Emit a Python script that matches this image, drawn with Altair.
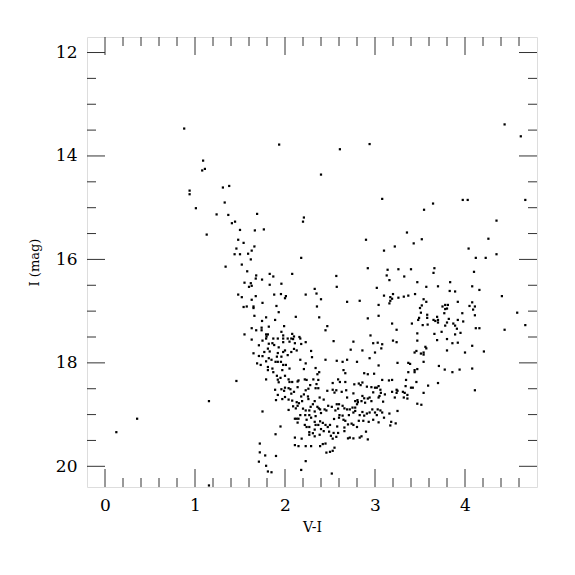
import altair as alt
import pandas as pd

# ---- data: (V-I, I) ----
sparse = [(0.88,13.47),(1.09,14.09),(1.11,14.25),(1.08,14.28),(1.31,14.61),(1.38,14.58),
          (1.935,13.78),(2.61,13.87),(2.94,13.77),(2.40,14.36),(4.44,13.39),(4.62,13.62),
          (0.126,19.34),(0.357,19.08),(1.155,18.74),(1.155,20.37),(1.46,18.35),
          (0.94,14.67),(0.94,14.74),(1.33,14.90),(1.01,15.01),(1.24,15.13),(1.37,15.14),
          (1.445,15.27),(1.41,15.30),(1.13,15.52),(1.46,15.79),(1.44,15.90),(1.34,16.14)]

upper_mid = [(3.08,14.83),(1.69,15.12),(2.21,15.19),(2.20,15.27),(1.50,15.43),(1.665,15.44),(1.765,15.42),
             (1.48,15.62),(1.54,15.68),(1.66,15.75),(1.63,15.83),(1.59,15.89),(1.50,15.90),(2.18,15.97),
             (1.62,16.00),(2.90,15.62),(3.10,15.83),(1.52,16.10),(1.58,16.23),(2.92,16.17),(3.14,16.20),
             (3.13,16.31),(1.68,16.31),(1.675,16.37),(1.83,16.28),(1.87,16.33),(1.745,16.39),(2.08,16.28),
             (2.57,16.32),(1.55,16.45),(1.62,16.46),(1.63,16.51),(1.60,16.53),(1.83,16.49),(1.96,16.47),
             (2.575,16.53),(2.33,16.57),(2.35,16.66),(2.23,16.68),(1.48,16.68),(1.52,16.73),(1.675,16.71),
             (1.88,16.68),(1.955,16.67),(2.01,16.71),(2.00,16.75),(2.40,16.77),(3.02,16.55),(3.10,16.70),
             (1.63,16.78),(1.75,16.84),(2.69,16.82),(2.83,16.80),(3.04,16.88),(1.54,16.92),(1.575,16.91),
             (1.65,16.91),(1.65,16.94),(1.905,16.90),(2.355,16.91),(1.93,17.02),(1.66,17.09),(1.79,17.12),
             (2.12,17.11),(2.38,17.12),(3.04,17.09),(2.92,17.14),(1.745,17.19),(1.89,17.17),(2.47,17.29),
             (2.45,17.37),(1.99,17.29),(1.82,17.30),(1.63,17.33),(1.68,17.37),(1.74,17.32),(1.74,17.37),
             (1.96,17.40),(1.55,17.45),(1.79,17.45),(1.81,17.45),(1.795,17.49),(1.98,17.47),(2.08,17.44),
             (2.10,17.49),(2.16,17.50),(2.95,17.47)]

upper_red = [(3.645,14.92),(3.975,14.85),(4.03,14.85),(4.67,14.85),(3.545,15.04),(4.35,15.25),(3.355,15.48),
             (3.52,15.61),(3.43,15.69),(4.26,15.60),(3.22,15.75),(4.04,15.79),(4.35,15.90),(4.12,15.97),
             (4.23,15.97),(3.26,16.19),(3.40,16.19),(3.66,16.17),(3.65,16.26),(3.325,16.33),(4.10,16.24),
             (3.16,16.40),(3.47,16.44),(3.835,16.44),(3.57,16.53),(3.70,16.52),(4.08,16.52),(4.16,16.59),
             (3.83,16.61),(3.89,16.62),(3.20,16.67),(3.445,16.67),(3.17,16.73),(3.19,16.76),(3.26,16.74),
             (3.32,16.72),(3.37,16.70),(3.54,16.77),(4.41,16.71),(3.17,16.80),(3.16,16.85),(3.57,16.82),
             (4.08,16.83),(3.92,16.82),(3.52,16.89),(3.75,16.91),(3.78,16.88),(3.81,16.88),(4.05,16.90),
             (4.11,16.91),(3.50,16.94),(3.80,16.95),(3.78,16.96),(4.09,16.97),(3.51,17.03),(3.77,17.04),
             (3.97,17.04),(4.11,17.08),(4.58,17.03),(3.58,17.07),(3.58,17.13),(3.49,17.13),(3.48,17.17),
             (3.65,17.17),(3.69,17.11),(3.70,17.17),(3.82,17.15),(3.92,17.17),(3.67,17.19),(3.70,17.22),
             (3.80,17.22),(3.98,17.20),(3.87,17.24),(3.19,17.24),(3.41,17.24),(3.53,17.27),(3.585,17.26),
             (3.78,17.28),(3.89,17.28),(4.67,17.27),(3.91,17.34),(4.12,17.33),(4.16,17.33),(3.24,17.36),
             (3.74,17.40),(4.44,17.36),(3.47,17.43),(3.66,17.44),(3.89,17.45),(3.95,17.42)]

lower_red = [(3.20,17.57),(3.24,17.60),(3.47,17.57),(3.69,17.56),(3.80,17.54),(3.86,17.62),(3.92,17.61),
             (4.08,17.67),(3.56,17.69),(3.57,17.72),(3.46,17.77),(3.44,17.80),(3.51,17.82),(3.54,17.80),
             (3.54,17.84),(3.80,17.76),(4.00,17.80),(4.21,17.78),(3.25,18.00),(3.37,18.00),(3.39,18.02),
             (3.54,17.98),(3.71,18.06),(3.775,18.13),(3.94,18.13),(3.86,18.18),(4.08,18.11),(3.47,18.12),
             (3.44,18.14),(3.44,18.18),(3.37,18.18),(3.155,18.34),(3.19,18.33),(3.345,18.33),(3.46,18.37),
             (3.70,18.39),(3.59,18.44),(3.34,18.45),(3.40,18.48),(3.42,18.48),(4.11,18.53),(3.19,18.56),
             (3.24,18.52),(3.25,18.54),(3.24,18.58),(3.31,18.56),(3.33,18.58),(3.54,18.58),(3.36,18.62),
             (3.22,18.67),(3.32,18.67),(3.36,18.69),(3.47,18.79),(3.515,18.81),(3.16,18.98),(3.25,18.93),
             (3.18,19.14),(3.23,19.17),(3.17,19.21)]

dense_a = [(1.63,17.55),(1.71,17.66),(1.75,17.57),(1.79,17.53),(1.82,17.63),(1.86,17.62),(1.87,17.53),
           (1.92,17.53),(1.98,17.60),(1.98,17.53),(2.03,17.53),(2.05,17.59),(2.07,17.53),(2.09,17.54),
           (2.11,17.62),(2.17,17.53),(2.18,17.635),(2.23,17.60),(2.54,17.58),(2.76,17.59),(2.98,17.62),
           (3.03,17.61),(3.08,17.64),
           (1.88,17.655),(1.93,17.70),(2.00,17.76),(1.98,17.79),(1.92,17.81),(1.77,17.79),(1.65,17.815),
           (1.71,17.867),(1.75,17.87),(1.81,17.725),(1.83,17.78),(1.82,17.91),(1.85,17.94),(1.91,17.88),
           (1.96,17.88),(2.03,17.85),(2.07,17.79),(2.10,17.73),(2.13,17.76),(2.29,17.77),(2.30,17.89),
           (2.45,17.94),(2.575,17.96),(2.64,17.98),(2.69,17.94),(2.80,17.98),(2.73,17.745),(2.86,17.76),
           (2.94,17.91),(3.00,17.80),(3.07,17.72),(3.04,18.05),
           (1.69,18.01),(1.73,18.04),(1.79,17.97),(1.895,17.98),(1.92,17.98),(1.955,17.98),(1.81,18.08),
           (1.81,18.14),(1.86,18.11),(1.87,18.18),(1.98,18.04),(2.01,18.04),(1.97,18.14),(2.05,18.11),
           (2.17,17.94),(2.23,18.01),(2.21,18.12),(2.34,18.10),(2.38,18.18),(2.65,18.14),(2.67,18.20),
           (2.99,18.21),(2.88,18.20),(2.92,18.22)]

dense_b = [(1.79,18.32),(1.91,18.25),(1.92,18.325),(1.95,18.29),(1.93,18.375),(2.00,18.25),(2.04,18.32),
           (2.05,18.37),(2.08,18.37),(2.14,18.36),(2.15,18.34),(2.22,18.32),(2.24,18.33),(2.315,18.32),
           (2.36,18.22),(2.37,18.33),(2.35,18.41),(2.28,18.43),(2.59,18.32),(2.61,18.37),(2.67,18.37),
           (2.53,18.39),(2.82,18.40),(2.84,18.43),(2.86,18.38),(2.77,18.415),(2.91,18.46),(2.96,18.47),
           (3.00,18.48),(3.04,18.45),(3.08,18.33),(3.06,18.52),
           (1.89,18.52),(1.96,18.51),(2.00,18.48),(1.99,18.54),(2.04,18.49),(2.06,18.51),(2.07,18.595),
           (2.10,18.56),(2.14,18.47),(2.23,18.53),(2.26,18.50),(2.34,18.49),(2.37,18.49),(1.92,18.62),
           (1.90,18.72),(1.97,18.70),(2.00,18.66),(2.04,18.71),(2.08,18.73),(2.18,18.65),(2.21,18.61),
           (2.255,18.65),(2.26,18.70),(2.13,18.76),(2.155,18.78),(2.19,18.74),(2.33,18.74),(2.385,18.67),
           (2.43,18.71),(2.47,18.54),(2.53,18.52),(2.55,18.575),(2.57,18.53),(2.63,18.56),(2.68,18.53),
           (2.76,18.59),(2.69,18.67),(2.78,18.74),(2.86,18.64),(2.88,18.685),(2.805,18.72),(2.92,18.69),
           (2.94,18.67),(2.85,18.74),(2.89,18.77),(2.96,18.74),(3.04,18.67),(3.05,18.64),(3.09,18.75),
           (2.98,18.57),(3.065,18.58),(3.11,18.61),(3.02,18.48)]

dense_c = [(2.04,18.91),(2.09,18.84),(2.12,18.88),(2.14,18.83),(2.20,18.885),(2.23,18.92),(2.27,18.92),
           (2.285,18.85),(2.31,18.80),(2.36,18.85),(2.375,18.88),(2.39,18.90),(2.33,18.94),(2.34,19.03),
           (2.40,18.97),(2.44,18.90),(2.46,18.92),(2.48,18.83),(2.52,18.85),(2.56,18.92),(2.575,18.80),
           (2.59,18.885),(2.60,18.80),(2.64,18.83),(2.66,18.88),(2.69,18.90),(2.72,18.90),(2.75,18.865),
           (2.78,18.865),(2.78,18.93),(2.80,18.80),(2.81,18.76),(2.76,18.96),(2.71,19.01),(2.83,19.01),
           (2.86,18.95),(2.88,19.02),(2.91,18.98),(2.94,18.96),(2.97,18.90),(3.00,18.96),(3.03,18.90),
           (3.06,18.92),(3.08,18.96),(3.02,19.01),(1.75,18.94),
           (2.11,19.08),(2.13,19.08),(2.15,19.08),(2.17,19.01),(2.14,19.155),(2.225,19.01),(2.24,19.10),
           (2.27,19.01),(2.29,19.06),(2.22,19.20),(2.24,19.24),(2.27,19.24),(2.33,19.14),(2.34,19.20),
           (2.37,19.20),(2.39,19.13),(2.42,19.16),(2.45,19.20),(2.475,19.24),(2.50,19.20),(2.545,19.085),
           (2.60,19.06),(2.605,19.01),(2.64,19.02),(2.65,19.10),(2.67,19.12),(2.70,19.19),(2.74,19.175),
           (2.76,19.20),(2.80,19.24),(2.82,19.12),(2.87,19.12),(2.93,19.14),(2.98,19.10),(3.04,19.15),
           (3.10,19.06),(1.95,19.23),(2.58,19.23),(2.66,19.25)]

dense_d = [(2.27,19.34),(2.27,19.39),(2.31,19.36),(2.33,19.42),(2.385,19.39),(2.33,19.29),(2.40,19.28),
           (2.43,19.32),(2.49,19.33),(2.51,19.41),(2.53,19.465),(2.57,19.43),(2.54,19.355),(2.59,19.355),
           (2.66,19.32),(2.70,19.46),(2.72,19.445),(2.76,19.46),(2.83,19.445),(2.85,19.42),(2.90,19.33),
           (2.92,19.48),(1.895,19.38),(2.11,19.445),(2.185,19.465),(2.11,19.59),(2.15,19.61),(2.23,19.61),
           (2.29,19.61),(2.39,19.61),(2.42,19.57),(2.45,19.56),(2.55,19.64),(2.53,19.70),(2.50,19.72),
           (2.46,19.735),(1.72,19.56),
           (1.72,19.73),(1.78,19.79),(1.90,19.80),(1.71,19.91),(1.79,19.99),(1.81,20.10),(1.85,20.115),
           (2.18,20.07),(2.23,19.90),(2.52,20.14)]

points = sparse + upper_mid + upper_red + lower_red + dense_a + dense_b + dense_c + dense_d
df = pd.DataFrame(points, columns=["vi", "imag"])

# axis tick positions
x_major = [0, 1, 2, 3, 4]
x_minor = [0.2, 0.4, 0.6, 0.8, 1.2, 1.4, 1.6, 1.8, 2.2, 2.4, 2.6, 2.8,
           3.2, 3.4, 3.6, 3.8, 4.2, 4.4, 4.6]
y_major = [12, 14, 16, 18, 20]
y_minor = [12.5, 13, 13.5, 14.5, 15, 15.5, 16.5, 17, 17.5, 18.5, 19, 19.5]

W = H = 450
FONT = "DejaVu Serif"
TICK = "#333333"

xs = alt.Scale(domain=[-0.2, 4.8], nice=False, zero=False)
ys = alt.Scale(domain=[11.7, 20.4], reverse=True, nice=False, zero=False)

x_axis = alt.Axis(values=x_major, ticks=False, domain=False, grid=False,
                  labelFont=FONT, labelFontSize=17, labelColor="black",
                  labelPadding=10, format="d",
                  titleFont=FONT, titleFontSize=14, titleFontWeight="normal",
                  titleColor="black", titlePadding=7)
y_axis = alt.Axis(values=y_major, ticks=False, domain=False, grid=False,
                  labelFont=FONT, labelFontSize=17, labelColor="black",
                  labelPadding=10, format="d",
                  titleFont=FONT, titleFontSize=13, titleFontWeight="normal",
                  titleColor="black", titlePadding=14)

pts = alt.Chart(df).mark_square(size=5, color="black", opacity=1).encode(
    x=alt.X("vi:Q", scale=xs, title="V-I", axis=x_axis),
    y=alt.Y("imag:Q", scale=ys, title="I (mag)", axis=y_axis),
)

def xticks(vals, length):
    d = pd.DataFrame({"v": vals})
    bot = alt.Chart(d).mark_rule(color=TICK, strokeWidth=1).encode(
        x=alt.X("v:Q", scale=xs, title="V-I", axis=x_axis), y=alt.value(H), y2=alt.value(H - length))
    top = alt.Chart(d).mark_rule(color=TICK, strokeWidth=1).encode(
        x=alt.X("v:Q", scale=xs, title="V-I", axis=x_axis), y=alt.value(0), y2=alt.value(length))
    return [bot, top]

def yticks(vals, length):
    d = pd.DataFrame({"v": vals})
    left = alt.Chart(d).mark_rule(color=TICK, strokeWidth=1).encode(
        y=alt.Y("v:Q", scale=ys, title="I (mag)", axis=y_axis), x=alt.value(0), x2=alt.value(length))
    right = alt.Chart(d).mark_rule(color=TICK, strokeWidth=1).encode(
        y=alt.Y("v:Q", scale=ys, title="I (mag)", axis=y_axis), x=alt.value(W), x2=alt.value(W - length))
    return [left, right]

layers = [pts] + xticks(x_major, 18) + xticks(x_minor, 9) + yticks(y_major, 18) + yticks(y_minor, 9)

chart = alt.layer(*layers).properties(
    width=W, height=H,
    autosize=alt.AutoSizeParams(type="none"),
    padding={"left": 79, "top": 29, "right": 30, "bottom": 80},
).configure_view(stroke=TICK, strokeWidth=1).configure(background="white")

chart.save("out.html", embed_options={"renderer": "svg", "actions": False})
